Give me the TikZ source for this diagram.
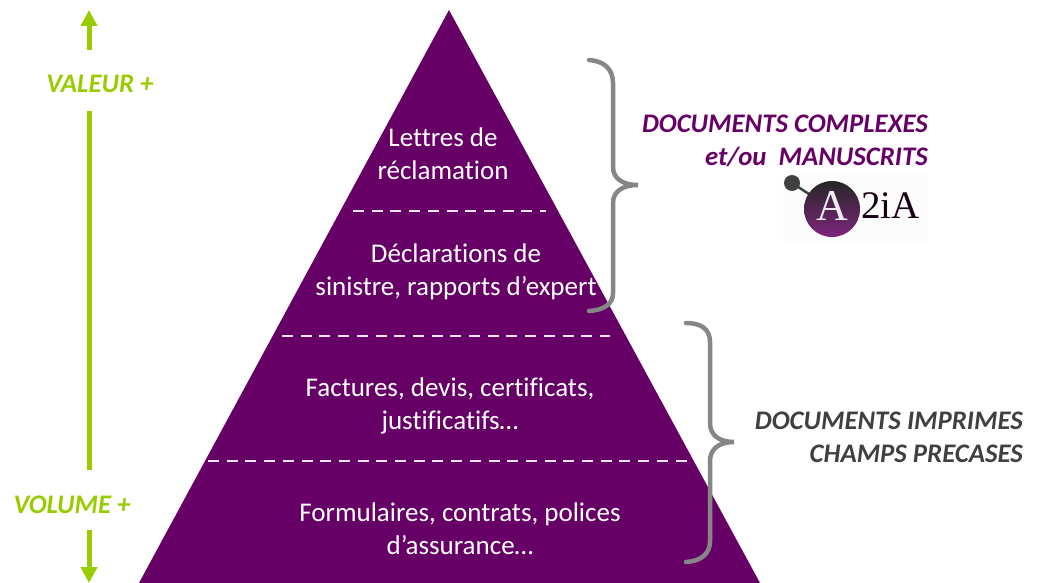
\documentclass[tikz,border=0pt]{standalone}
\usepackage{fontspec}
\setmainfont[Ligatures=NoCommon]{Carlito}
\newfontfamily\logofont{Liberation Serif}
\usetikzlibrary{arrows.meta}
\definecolor{prune}{RGB}{102,0,102}
\definecolor{vert}{RGB}{153,204,0}
\definecolor{gris}{RGB}{134,134,134}
\definecolor{sombre}{RGB}{64,64,64}
\tikzset{
	niveau/.style={text=white, font=\fontsize{27}{33}\selectfont, align=center},
	titre/.style={font=\fontsize{26.8}{32.5}\selectfont\bfseries\itshape, align=right, inner sep=0pt},
	separation/.style={white!90!prune, line width=2.5pt, dash pattern=on 11pt off 7.7pt},
	accolade/.style={gris, line width=4.5pt, line cap=round},
	fleche/.style={vert, line width=5pt, -{Triangle[length=16pt, width=16pt]}}
}
\begin{document}
\begin{tikzpicture}[x=1pt, y=-1pt]
	\useasboundingbox (0,0) rectangle (1038,583);
	% Pyramide
	\fill[prune] (449,10) -- (760,583) -- (139,583) -- cycle;
	% Lignes pointillees
	\coordinate (sep1g) at (353,211);
	\coordinate (sep1d) at (546,211);
	\coordinate (sep2g) at (282,336);
	\coordinate (sep2d) at (610,336);
	\coordinate (sep3g) at (208,461);
	\coordinate (sep3d) at (690,461);
	\draw[separation] (sep1g) -- (sep1d);
	\draw[separation] (sep2g) -- (sep2d);
	\draw[separation] (sep3g) -- (sep3d);
	% Niveaux
	\node[niveau] (lettres) at (443,154) {Lettres de\\réclamation};
	\node[niveau] (sinistre) at (456,272) {Déclarations de\\sinistre, rapports d’expert};
	\node[niveau] (factures) at (450,405.5) {Factures, devis, certificats,\\justificatifs…};
	\node[niveau] (formulaires) at (460,529) {Formulaires, contrats, polices\\d’assurance…};
	% Accolades
	\draw[accolade] (589,60) .. controls (604,61) and (613,69) .. (613,83) -- (613,167)
		.. controls (613,178) and (622,185) .. (638,185)
		.. controls (622,185) and (613,192) .. (613,203) -- (613,293)
		.. controls (613,304) and (604,310) .. (589,311);
	\draw[accolade] (686,323) .. controls (701,323) and (710,329) .. (710,342) -- (710,423)
		.. controls (710,435) and (719,442) .. (734,442)
		.. controls (719,442) and (710,449) .. (710,461) -- (710,541)
		.. controls (710,554) and (701,561) .. (686,562);
	% Titres
	\node[titre, text=prune, anchor=east] (complexes) at (928,141) {DOCUMENTS COMPLEXES\\et/ou\ \ MANUSCRITS};
	\node[titre, text=sombre, anchor=east] (imprimes) at (1023,437.5) {DOCUMENTS IMPRIMES\\CHAMPS PRECASES};
	% Axe valeur / volume
	\node[titre, text=vert, anchor=center] (valeur) at (100,84) {VALEUR +};
	\node[titre, text=vert, anchor=center] (volume) at (72,505) {VOLUME +};
	\coordinate (haut) at (89,10);
	\coordinate (bas) at (89,583);
	\coordinate (axeh) at (89,111);
	\coordinate (axeb) at (89,470);
	\coordinate (departh) at (89,50);
	\coordinate (departb) at (89,530);
	\draw[fleche] (departh) -- (haut);
	\draw[fleche] (departb) -- (bas);
	\draw[vert, line width=5pt] (axeh) -- (axeb);
	% Logo
	\fill[black!1] (783,172) rectangle (928,243);
	\draw[black!75, line width=2.5pt] (792,183) -- (832,209);
	\fill[black!75] (792,183) circle (8);
	\shade[top color=black!85, bottom color=prune!85!white] (832,209) circle (28);
	\node[text=white!92!prune, font=\logofont\fontsize{44}{44}\selectfont, inner sep=0pt] (logoa) at (832,206) {A};
	\node[text=black!75!prune, font=\logofont\fontsize{39}{39}\selectfont, inner sep=0pt, anchor=west] (logob) at (861,206) {2iA};
\end{tikzpicture}
\end{document}
